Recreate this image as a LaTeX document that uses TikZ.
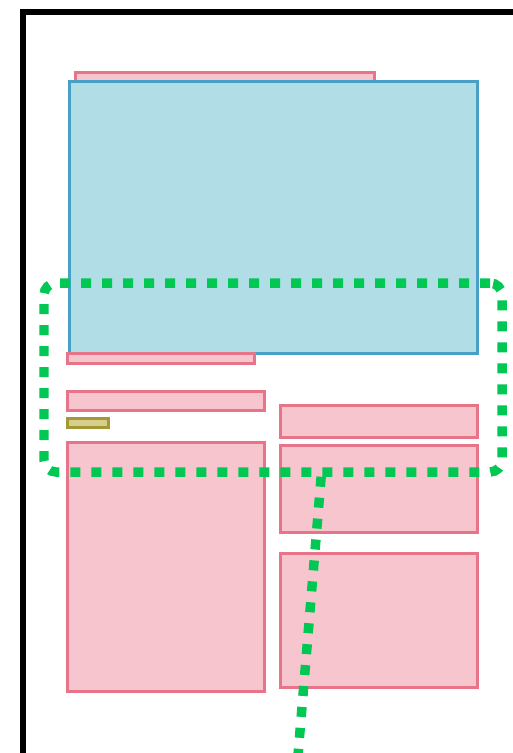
\documentclass[tikz,border=0pt]{standalone}
\usetikzlibrary{fit,calc}

\definecolor{panelblue}{RGB}{176,221,230}
\definecolor{panelblueline}{RGB}{72,160,196}
\definecolor{blockpink}{RGB}{247,197,205}
\definecolor{blockpinkline}{RGB}{232,116,138}
\definecolor{tagolive}{RGB}{215,206,140}
\definecolor{tagoliveline}{RGB}{163,153,52}
\definecolor{focusgreen}{RGB}{0,200,83}

\tikzset{
    pinkblock/.style={draw=blockpinkline, fill=blockpink, line width=0.06cm, inner sep=0pt},
    blueblock/.style={draw=panelblueline, fill=panelblue, line width=0.06cm, inner sep=0pt},
    oliveblock/.style={draw=tagoliveline, fill=tagolive, line width=0.06cm, inner sep=0pt},
    greendots/.style={draw=focusgreen, line width=0.19cm, dash pattern=on 0.2cm off 0.22cm}
}

\begin{document}
\begin{tikzpicture}[x=0.02cm, y=-0.02cm]
        \useasboundingbox (0,0) rectangle (512,753);

        % page frame
        \draw[line width=0.11cm] (23,755) -- (23,12) -- (514,12);

        % header bar and main panel
        \node[pinkblock, fit={(75,73) (374,82)}] (topbar) {};
        \node[blueblock, fit={(69,82) (477,353)}] (mainpanel) {};
        \node[pinkblock, fit={(67,353) (254,363)}] (caption) {};

        % left column
        \node[pinkblock, fit={(67,391) (264,410)}] (lefttitle) {};
        \node[oliveblock, fit={(67,418) (108,427)}] (tag) {};
        \node[pinkblock, fit={(67,442) (264,691)}] (leftbody) {};

        % right column
        \node[pinkblock, fit={(280,405) (477,437)}] (righttitle) {};
        \node[pinkblock, fit={(280,445) (477,532)}] (rightmid) {};
        \node[pinkblock, fit={(280,553) (477,687)}] (rightlow) {};

        % highlighted region and its pointer
        \node[greendots, rounded corners=0.24cm, inner sep=0pt, fit={(44,283) (502,472)}] (focus) {};
        \coordinate (pointer) at (298,755);
        \draw[greendots] ($(focus.south west)!0.603!(focus.south east)$) -- (pointer);
    \end{tikzpicture}
\end{document}
